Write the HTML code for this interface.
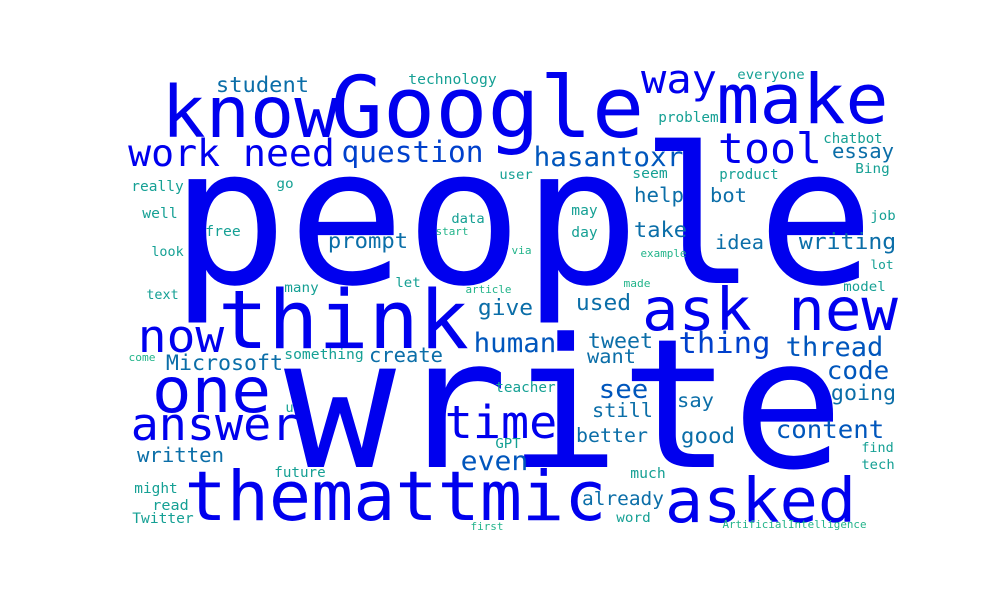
<!DOCTYPE html>
<html><head><meta charset="utf-8"><style>
html,body{margin:0;padding:0;background:#fff;width:1000px;height:600px;overflow:hidden}
svg text{font-family:"DejaVu Sans Mono","Liberation Mono",monospace}
</style></head><body>
<svg id="cloud" width="1000" height="600" viewBox="0 0 1000 600" xmlns="http://www.w3.org/2000/svg"></svg>
<script>
const words=["people","write","Google","know","make","way","tool","work need","question","student","technology","everyone","problem","hasantoxr","essay","chatbot","Bing","seem","product","user","really","go","help","bot","well","data","may","job","free","start","day","take","prompt","idea","writing","look","via","example","lot","text","many","let","article","made","model","think","ask new","give","used","now","human","tweet","thing","thread","Microsoft","come","something","create","want","one","code","see","going","teacher","u","say","still","answer","time","content","better","good","written","even","GPT","find","tech","future","much","themattmic","asked","might","read","already","Twitter","word","first","ArtificialIntelligence"];
const sizes=[190,180,85,71,68.5,40,41.5,37.5,29,21.6,14.5,13.7,14,27,20,13.8,13.7,14,13.8,13.3,14,13.3,20,19.4,14,13.3,13.8,13.3,14,10.6,13.8,21,21.6,19.5,22.5,13,10.5,10.7,12.2,13,13.7,13.3,10.7,10.8,13.6,80.7,59,22,22,45,26.6,21,29.6,26.3,21.2,10.8,14.4,20,19.5,62.6,25,26,21,14,13,19.4,19.6,45.4,45,25,19.4,21.6,20,27,13.3,13,13.3,13.8,14,69,61.5,14,14.5,19,14.2,13.7,10.6,10.8];
const lefts=[180,293,335,165,720,643,720,130,343,217,409,738,659,535,833,824,856,633,720,500,132,277,635,711,143,452,572,871,206,436,572,635,329,716,800,152,512,641,871,147,285,396,466,624,844,222,645,479,577,140,475,589,680,787,167,129,285,370,588,155,828,600,832,496,286,678,593,133,447,777,577,682,138,462,496,862,862,275,631,188,668,135,153,583,133,617,471,723];
const rights=[865,835,640,335,885,715,820,333,482,308,496,804,718,682,893,882,889,667,778,532,183,293,683,746,177,484,597,895,240,468,597,686,407,763,895,183,531,686,893,178,318,420,511,650,885,465,895,532,630,222,555,652,769,882,282,155,363,442,635,268,888,647,895,555,293,713,652,297,555,883,647,734,223,527,520,893,894,325,665,603,853,177,188,663,193,650,503,866];
const baselines=[283,467,137,137,123,93,163,166,162,92,84,79,122,166,158,143,173,178,179,179,191,188,202,202,218,223,215,220,236,235,237,237,248,249,249,256,254,257,269,299,292,287,293,287,291,348,330,315,310,352,352,348,353,356,370,361,359,362,363,412,379,398,400,392,412,407,417,440,438,438,442,443,462,470,448,452,469,477,478,520,522,493,510,505,523,522,530,528];
function color(s){
  if(s>=36) return "#0000ee";
  if(s>=28) return "#0040cc";
  if(s>=24) return "#0056bc";
  if(s>=18.5) return "#0b6ea8";
  if(s>=12) return "#15a094";
  return "#22b48a";
}
const svg=document.getElementById('cloud');
const NS="http://www.w3.org/2000/svg";
for(let i=0;i<words.length;i++){
  const pad=0.05*sizes[i];
  const t=document.createElementNS(NS,'text');
  
  
  t.setAttribute('x',lefts[i]-pad);
  t.setAttribute('y',baselines[i]);
  t.setAttribute('font-size',sizes[i]);
  t.setAttribute('fill',color(sizes[i]));
  t.setAttribute('textLength',rights[i]-lefts[i]+2*pad);
  t.setAttribute('lengthAdjust','spacingAndGlyphs');
  t.setAttribute('xml:space','preserve');
  t.textContent=words[i];
  svg.appendChild(t);
}
</script>
</body></html>
